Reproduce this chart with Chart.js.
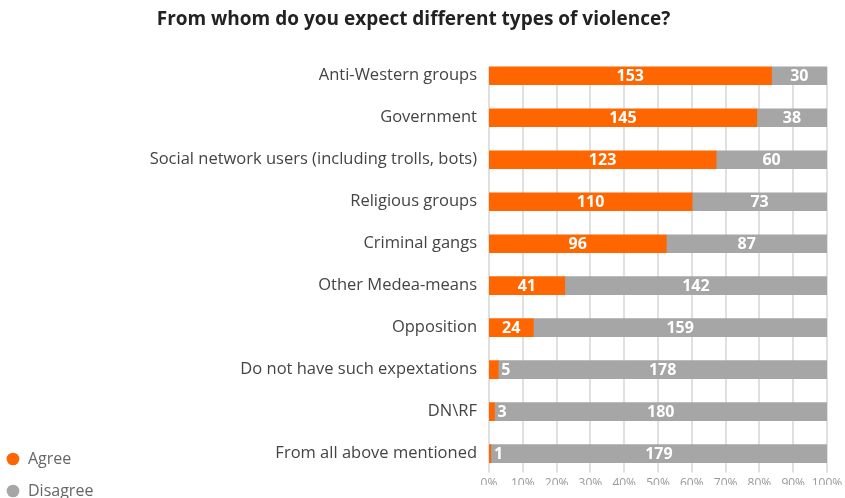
<!DOCTYPE html>
<html>
<head>
<meta charset="utf-8">
<script src="https://cdn.jsdelivr.net/npm/chart.js@4/dist/chart.umd.min.js"></script>
<style>
  html, body { margin: 0; padding: 0; background: #fff; }
  #wrap { width: 845px; height: 498px; position: relative; }
</style>
</head>
<body>
<div id="wrap"><canvas id="violenceChart"></canvas></div>
<script>
// --- DATA ---
const categories = [
    'Anti-Western groups',
    'Government',
    'Social network users (including trolls, bots)',
    'Religious groups',
    'Criminal gangs',
    'Other Medea-means',
    'Opposition',
    'Do not have such expextations',
    'DN\\RF',
    'From all above mentioned'
];
const agreeCounts = [153, 145, 123, 110, 96, 41, 24, 5, 3, 1];
const disagreeCounts = [30, 38, 60, 73, 87, 142, 159, 178, 180, 179];
const seriesNames = ['Agree', 'Disagree'];

// bars are stacked to 100% of each row's total
const toPct = (v, i) => v / (agreeCounts[i] + disagreeCounts[i]) * 100;
const agreePct = agreeCounts.map(toPct);
const disagreePct = disagreeCounts.map(toPct);

const ORANGE = '#FF6600';
const GREY = '#A6A6A6';
const FONT = "'Open Sans', 'Noto Sans', sans-serif";

// vertical grid lines: start at the top of the first bar, like the original
const barGrid = {
    id: 'barGrid',
    beforeDatasetsDraw(chart) {
        const ctx = chart.ctx;
        const x = chart.scales.x;
        const first = chart.getDatasetMeta(0).data[0];
        const top = first.y - first.height / 2;
        const bottom = chart.chartArea.bottom - 2;
        ctx.save();
        ctx.strokeStyle = '#e0e0e0';
        ctx.lineWidth = 2;
        x.ticks.forEach(t => {
            const px = Math.round(x.getPixelForValue(t.value));
            ctx.beginPath();
            ctx.moveTo(px, top);
            ctx.lineTo(px, bottom);
            ctx.stroke();
        });
        ctx.restore();
    }
};

// white count labels inside bars (no datalabels plugin available offline)
const barLabels = {
    id: 'barLabels',
    afterDatasetsDraw(chart) {
        const ctx = chart.ctx;
        ctx.save();
        ctx.font = "bold 16px " + FONT;
        ctx.fillStyle = '#fff';
        ctx.textBaseline = 'middle';
        chart.data.datasets.forEach((ds, di) => {
            const meta = chart.getDatasetMeta(di);
            meta.data.forEach((bar, i) => {
                const txt = String(ds.counts[i]);
                const w = bar.x - bar.base;
                const tw = ctx.measureText(txt).width;
                if (w > tw + 6) {
                    ctx.textAlign = 'center';
                    ctx.fillText(txt, (bar.x + bar.base) / 2, bar.y + 1);
                } else {
                    ctx.textAlign = 'left';
                    ctx.fillText(txt, bar.x + 3, bar.y + 1);
                }
            });
        });
        ctx.restore();
    }
};

// nudge the legend down/left so it sits in the bottom-left corner like the original
const legendNudge = {
    id: 'legendNudge',
    afterLayout(chart) {
        const lg = chart.legend;
        lg.top += 30; lg.bottom += 30;
        lg.left -= 10; lg.right -= 10;
    }
};

new Chart(document.getElementById('violenceChart'), {
    type: 'bar',
    data: {
        labels: categories,
        datasets: [
            { label: seriesNames[0], data: agreePct, counts: agreeCounts, backgroundColor: ORANGE, barThickness: 18 },
            { label: seriesNames[1], data: disagreePct, counts: disagreeCounts, backgroundColor: GREY, barThickness: 18 }
        ]
    },
    options: {
        indexAxis: 'y',
        responsive: true,
        maintainAspectRatio: false,
        animation: false,
        layout: { padding: { top: 0, right: 18, bottom: 13, left: 0 } },
        scales: {
            x: {
                stacked: true,
                min: 0,
                max: 100,
                ticks: {
                    stepSize: 10,
                    autoSkip: false,
                    maxRotation: 0,
                    minRotation: 0,
                    color: '#9a9a9a',
                    font: { family: FONT, size: 12 },
                    padding: -6,
                    callback: v => v + '%'
                },
                grid: { display: false },
                border: { display: false }
            },
            y: {
                stacked: true,
                ticks: { color: '#444', font: { family: FONT, size: 16.5 }, padding: 4 },
                grid: { display: false },
                border: { display: false },
                afterFit(scale) { scale.width = 489 - scale.chart.legend.width; }
            }
        },
        plugins: {
            title: {
                display: true,
                text: 'From whom do you expect different types of violence?',
                color: '#222',
                font: { family: FONT, size: 19, weight: 'bold' },
                padding: { top: 8, bottom: 24 }
            },
            legend: {
                position: 'left',
                align: 'end',
                labels: {
                    usePointStyle: true,
                    pointStyle: 'circle',
                    boxWidth: 14,
                    boxHeight: 9,
                    padding: 16,
                    color: '#666',
                    font: { family: FONT, size: 16 }
                }
            },
            tooltip: { enabled: false }
        }
    },
    plugins: [barGrid, barLabels, legendNudge]
});
</script>
</body>
</html>
